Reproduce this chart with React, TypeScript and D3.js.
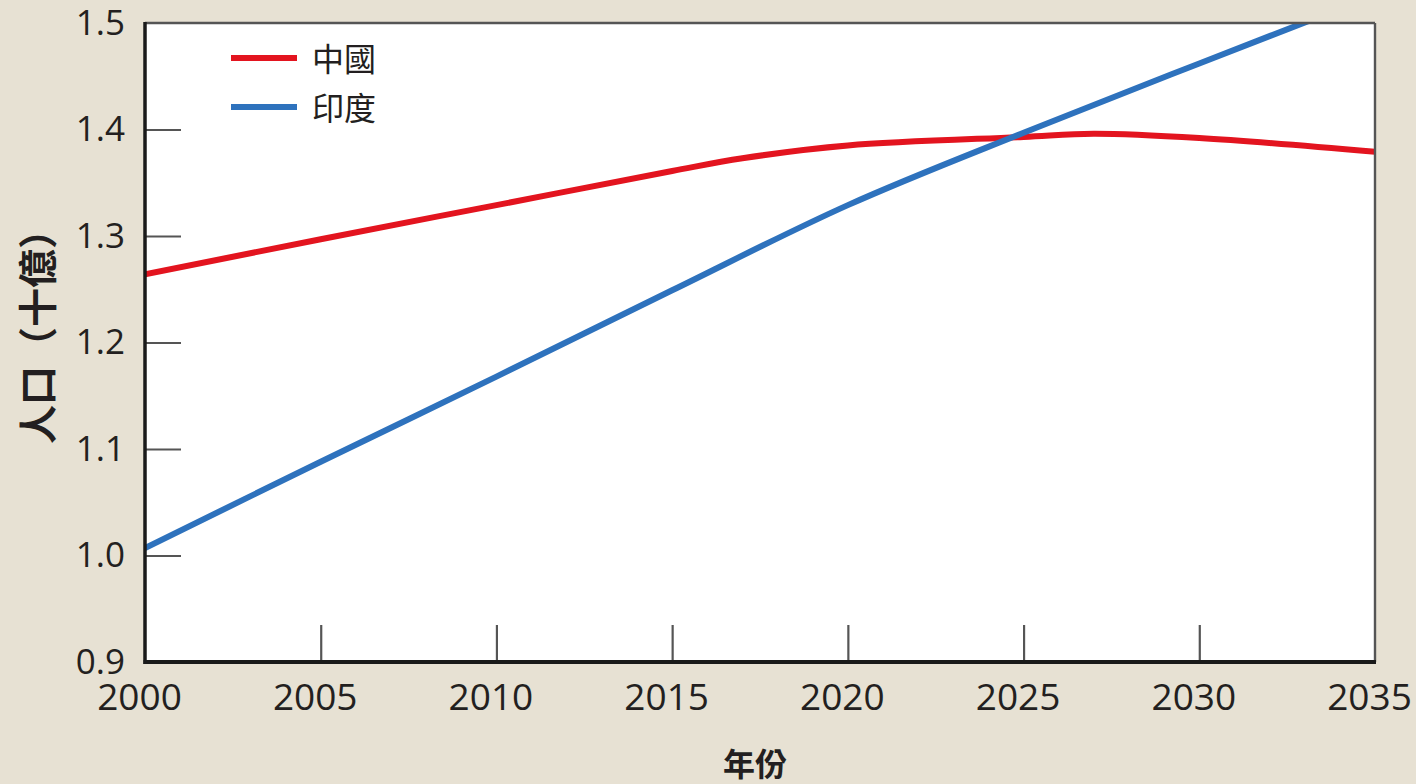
import React, { useRef, useEffect } from 'react';
import * as d3 from 'd3';

const years = [2000, 2005, 2010, 2015, 2017, 2020, 2025, 2027, 2030, 2035];
const chinaPop = [1.264, 1.297, 1.329, 1.361, 1.373, 1.385, 1.393, 1.396, 1.392, 1.379];
const indiaYears = [2000, 2005, 2010, 2015, 2020, 2025, 2030, 2035];
const indiaPop = [1.007, 1.088, 1.168, 1.249, 1.329, 1.397, 1.462, 1.526];
const xTicks = [2000, 2005, 2010, 2015, 2020, 2025, 2030, 2035];
const yTicks = [0.9, 1.0, 1.1, 1.2, 1.3, 1.4, 1.5];
const seriesNames = ['中國', '印度'];
const seriesColors = ['#e3141f', '#2e72bd'];

const W = 1416;
const H = 784;
const margin = { left: 145, right: 41, top: 23, bottom: 122 };
const FONT = '"Open Sans", "Noto Sans CJK TC", sans-serif';
const TEXT = '#231f20';

export default function App() {
  const ref = useRef<SVGSVGElement>(null);

  useEffect(() => {
    if (!ref.current) return;
    const svg = d3.select(ref.current);
    svg.selectAll('*').remove();

    const x = d3.scaleLinear().domain([2000, 2035]).range([margin.left, W - margin.right]);
    const y = d3.scaleLinear().domain([0.9, 1.5]).range([H - margin.bottom, margin.top]);

    svg.append('rect').attr('width', W).attr('height', H).attr('fill', '#e7e1d3');
    svg
      .append('rect')
      .attr('x', x(2000))
      .attr('y', y(1.5))
      .attr('width', x(2035) - x(2000))
      .attr('height', y(0.9) - y(1.5))
      .attr('fill', '#ffffff');

    svg
      .append('clipPath')
      .attr('id', 'plot-clip')
      .append('rect')
      .attr('x', x(2000))
      .attr('y', y(1.5))
      .attr('width', x(2035) - x(2000))
      .attr('height', y(0.9) - y(1.5));

    // axes with inward ticks
    const yAxis = svg
      .append('g')
      .attr('transform', `translate(${x(2000)},0)`)
      .call(d3.axisLeft(y).tickValues(yTicks).tickSize(-36).tickPadding(20).tickFormat(d3.format('.1f')));
    yAxis.select('.domain').remove();
    yAxis.selectAll('.tick line').attr('stroke', '#555').attr('stroke-width', 2.2);
    yAxis.selectAll('.tick').filter((d: any) => d === 0.9 || d === 1.5).select('line').remove();
    yAxis.selectAll('.tick text').attr('font-size', 35).attr('font-family', FONT).attr('fill', TEXT);

    const xAxis = svg
      .append('g')
      .attr('transform', `translate(0,${y(0.9)})`)
      .call(d3.axisBottom(x).tickValues(xTicks).tickSize(-37).tickPadding(22).tickFormat(d3.format('d')));
    xAxis.select('.domain').remove();
    xAxis.selectAll('.tick line').attr('stroke', '#555').attr('stroke-width', 2.2);
    xAxis.selectAll('.tick').filter((d: any) => d === 2000 || d === 2035).select('line').remove();
    xAxis
      .selectAll('.tick text')
      .attr('font-size', 37)
      .attr('font-family', FONT)
      .attr('fill', TEXT)
      .attr('dx', -6);

    // lines
    const line = d3
      .line<[number, number]>()
      .x((d) => x(d[0]))
      .y((d) => y(d[1]))
      .curve(d3.curveCatmullRom.alpha(0.5));

    const plot = svg.append('g').attr('clip-path', 'url(#plot-clip)');
    const series: [number, number][][] = [
      years.map((yr, i) => [yr, chinaPop[i]]),
      indiaYears.map((yr, i) => [yr, indiaPop[i]]),
    ];
    series.forEach((s, i) => {
      plot
        .append('path')
        .attr('d', line(s))
        .attr('fill', 'none')
        .attr('stroke', seriesColors[i])
        .attr('stroke-width', 6);
    });

    // frame
    svg
      .append('line')
      .attr('x1', x(2000)).attr('x2', x(2035))
      .attr('y1', y(1.5)).attr('y2', y(1.5))
      .attr('stroke', '#555').attr('stroke-width', 2.4);
    svg
      .append('line')
      .attr('x1', x(2035)).attr('x2', x(2035))
      .attr('y1', y(1.5)).attr('y2', y(0.9))
      .attr('stroke', '#555').attr('stroke-width', 2.4);
    svg
      .append('line')
      .attr('x1', x(2000)).attr('x2', x(2000))
      .attr('y1', y(1.5) - 1).attr('y2', y(0.9) + 2)
      .attr('stroke', '#1a1a1a').attr('stroke-width', 3.5);
    svg
      .append('line')
      .attr('x1', x(2000) - 1.5).attr('x2', x(2035) + 1)
      .attr('y1', y(0.9)).attr('y2', y(0.9))
      .attr('stroke', '#1a1a1a').attr('stroke-width', 4);

    // legend
    const legend = svg.append('g');
    seriesNames.forEach((name, i) => {
      const ly = 58 + i * 49;
      legend
        .append('line')
        .attr('x1', 231).attr('x2', 297)
        .attr('y1', ly).attr('y2', ly)
        .attr('stroke', seriesColors[i]).attr('stroke-width', 6);
      legend
        .append('text')
        .attr('x', 312).attr('y', ly)
        .attr('dominant-baseline', 'central')
        .attr('font-size', 32)
        .attr('font-family', FONT)
        .attr('fill', TEXT)
        .text(name);
    });

    // axis titles
    svg
      .append('text')
      .attr('transform', `translate(36,327) rotate(-90)`)
      .attr('text-anchor', 'middle')
      .attr('dominant-baseline', 'central')
      .attr('font-size', 39)
      .attr('font-weight', 700)
      .attr('font-family', FONT)
      .attr('fill', TEXT)
      .text('人口（十億）');
    svg
      .append('text')
      .attr('x', 755).attr('y', 763)
      .attr('text-anchor', 'middle')
      .attr('dominant-baseline', 'central')
      .attr('font-size', 32)
      .attr('font-weight', 700)
      .attr('font-family', FONT)
      .attr('fill', TEXT)
      .text('年份');
  }, []);

  return (
    <div style={{ position: 'fixed', left: 0, top: 0 }}>
      <svg ref={ref} width={W} height={H} style={{ display: 'block' }} />
    </div>
  );
}
